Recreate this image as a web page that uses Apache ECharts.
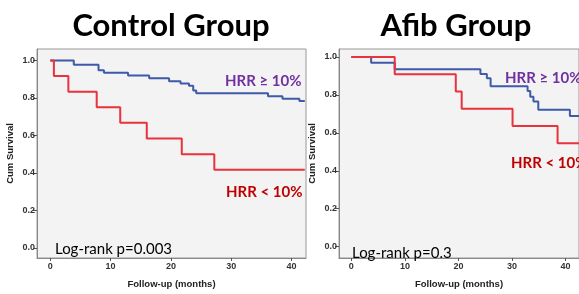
<!DOCTYPE html>
<html>
<head>
<meta charset="utf-8">
<script src="https://cdn.jsdelivr.net/npm/echarts@6/dist/echarts.min.js"></script>
<style>
  html, body { margin: 0; padding: 0; background: #fff; }
  #main { width: 579px; height: 294px; }
</style>
</head>
<body>
<div id="main"></div>
<script>
// Kaplan-Meier steps: time (months) and cum survival
var ctrlHighT = [0, 3.9, 8.0, 8.9, 12.9, 16.4, 19.7, 21.6, 23.0, 23.7, 24.2, 36.1, 38.5, 41.3, 42.2];
var ctrlHighS = [1.0, 0.977, 0.948, 0.934, 0.92, 0.905, 0.889, 0.877, 0.865, 0.839, 0.825, 0.809, 0.795, 0.783, 0.783];
var ctrlLowT = [0, 0.6, 3.0, 7.7, 11.6, 16.0, 21.8, 27.2, 42.2];
var ctrlLowS = [1.0, 0.917, 0.833, 0.75, 0.667, 0.583, 0.5, 0.417, 0.417];

var afibHighT = [0, 3.7, 8.1, 24.1, 25.3, 26.0, 32.9, 33.4, 34.0, 34.9, 40.8, 44];
var afibHighS = [1.0, 0.969, 0.935, 0.91, 0.888, 0.845, 0.82, 0.79, 0.765, 0.722, 0.689, 0.689];
var afibLowT = [0, 8.1, 19.5, 20.6, 30.1, 38.5, 44];
var afibLowS = [1.0, 0.909, 0.818, 0.727, 0.636, 0.545, 0.545];

var xTicks = [0, 10, 20, 30, 40];
var yTicks = [0, 0.2, 0.4, 0.6, 0.8, 1.0];

var BLUE = '#3f5aa8';
var RED = '#e8323c';

function pairs(t, s) {
  var out = [];
  for (var i = 0; i < t.length; i++) out.push([t[i], s[i]]);
  return out;
}

function xAxisCfg(idx, min, max) {
  return {
    type: 'value', gridIndex: idx, min: min, max: max,
    name: 'Follow-up (months)', nameLocation: 'middle', nameGap: 21,
    nameTextStyle: { fontFamily: 'Liberation Sans', fontWeight: 'bold', fontSize: 9.5, color: '#222' },
    axisLine: { show: true, onZero: false, lineStyle: { color: '#888' } },
    axisTick: { show: true, length: 3, customValues: xTicks, lineStyle: { color: '#555' } },
    axisLabel: { customValues: xTicks, margin: 4, fontFamily: 'Liberation Sans', fontWeight: 'bold', fontSize: 9, color: '#333' },
    splitLine: { show: false }
  };
}

function yAxisCfg(idx, min, max) {
  return {
    type: 'value', gridIndex: idx, min: min, max: max,
    name: 'Cum Survival', nameLocation: 'middle', nameGap: 22,
    nameTextStyle: { fontFamily: 'Liberation Sans', fontWeight: 'bold', fontSize: 9.5, color: '#222' },
    axisLine: { show: true, onZero: false, lineStyle: { color: '#888' } },
    axisTick: { show: true, length: 4, customValues: yTicks, lineStyle: { color: '#555' } },
    axisLabel: {
      customValues: yTicks, margin: 2, fontFamily: 'Liberation Sans', fontWeight: 'bold', fontSize: 9, color: '#333',
      formatter: function (v) { return v.toFixed(1); }
    },
    splitLine: { show: false }
  };
}

function stepSeries(name, t, s, color, idx, z) {
  return {
    name: name, type: 'line', step: 'end', showSymbol: false, z: z,
    xAxisIndex: idx, yAxisIndex: idx,
    lineStyle: { color: color, width: 2 },
    data: pairs(t, s)
  };
}

function txt(x, y, text, size, weight, color) {
  return {
    type: 'text', x: x, y: y, z: 100,
    style: { text: text, fontFamily: 'Lato', fontSize: size, fontWeight: weight, fill: color, textVerticalAlign: 'middle' }
  };
}

var chart = echarts.init(document.getElementById('main'), null, { renderer: 'canvas' });
chart.setOption({
  animation: false,
  backgroundColor: '#fff',
  grid: [
    { left: 37, top: 49, width: 269, height: 214, show: true, backgroundColor: '#f3f3f3', borderColor: '#999', borderWidth: 1 },
    { left: 339, top: 49, width: 248, height: 216, show: true, backgroundColor: '#f3f3f3', borderColor: '#999', borderWidth: 1 }
  ],
  xAxis: [xAxisCfg(0, -2.2, 42.4), xAxisCfg(1, -2.3, 42.5)],
  yAxis: [yAxisCfg(0, -0.054, 1.061), yAxisCfg(1, -0.06, 1.042)],
  series: [
    stepSeries('HRR ≥ 10%', ctrlHighT, ctrlHighS, BLUE, 0, 2),
    stepSeries('HRR < 10%', ctrlLowT, ctrlLowS, RED, 0, 3),
    stepSeries('HRR ≥ 10%', afibHighT, afibHighS, BLUE, 1, 2),
    stepSeries('HRR < 10%', afibLowT, afibLowS, RED, 1, 3)
  ],
  graphic: [
    { type: 'text', x: 171, y: 26, style: { text: 'Control Group', fontFamily: 'Lato', fontSize: 31, fontWeight: 'bold', fill: '#000', textAlign: 'center', textVerticalAlign: 'middle' } },
    { type: 'text', x: 456, y: 26, style: { text: 'Afib Group', fontFamily: 'Lato', fontSize: 31, fontWeight: 'bold', fill: '#000', textAlign: 'center', textVerticalAlign: 'middle' } },
    txt(225, 81, 'HRR ≥ 10%', 15, 'bold', '#7030a0'),
    txt(226, 192, 'HRR < 10%', 15, 'bold', '#c00000'),
    txt(505, 78, 'HRR ≥ 10%', 15, 'bold', '#7030a0'),
    txt(511, 163, 'HRR < 10%', 15, 'bold', '#c00000'),
    txt(55, 249, 'Log-rank p=0.003', 15, 'normal', '#000'),
    txt(352, 253, 'Log-rank p=0.3', 15, 'normal', '#000')
  ]
});
</script>
</body>
</html>
